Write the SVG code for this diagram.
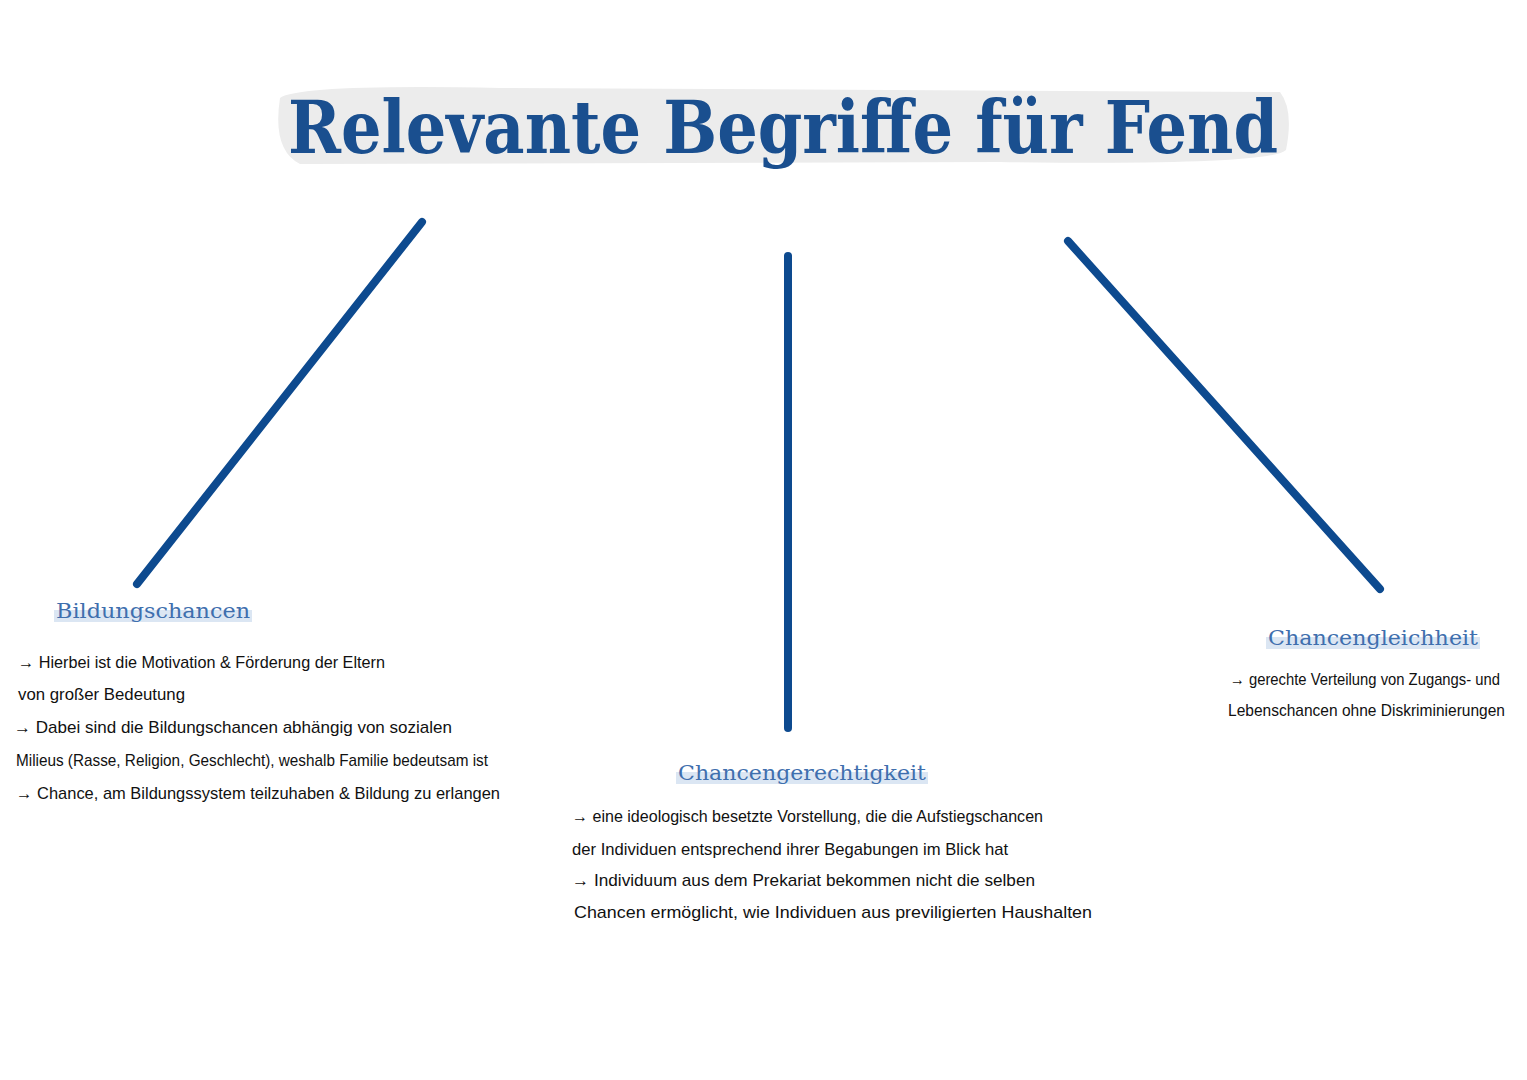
<svg xmlns="http://www.w3.org/2000/svg" width="1527" height="1080" viewBox="0 0 1527 1080">
<style>
.t{font-family:"DejaVu Serif",serif;font-weight:bold;fill:#1a4f8f}
.l{font-family:"DejaVu Serif",serif;font-size:21px;fill:#3f6fae}
.h{font-family:"Liberation Sans",sans-serif;font-size:17px;fill:#111}
.c{stroke:#0d4a8f;stroke-width:8;stroke-linecap:round;fill:none}
.hl{fill:#dbe6f3}
</style>
<rect width="1527" height="1080" fill="#fff"/>
<g id="title">
<path d="M280 98 Q300 84 500 88 L1280 92 Q1294 110 1286 150 Q1270 166 1000 162 L300 164 Q272 150 280 98Z" fill="#ececec"/>
<text class="t" x="288" y="153" font-size="72" textLength="990" lengthAdjust="spacingAndGlyphs">Relevante Begriffe für Fend</text>
</g>
<g id="connectors">
<line class="c" x1="422" y1="222" x2="137" y2="584"/>
<line class="c" x1="788" y1="256" x2="788" y2="728"/>
<line class="c" x1="1068" y1="241" x2="1380" y2="589"/>
</g>
<g id="bildungschancen">
<rect class="hl" x="54" y="610" width="198" height="12"/>
<text class="l" x="56" y="618" textLength="194" lengthAdjust="spacingAndGlyphs">Bildungschancen</text>
<text class="h" x="18" y="668" textLength="367" lengthAdjust="spacingAndGlyphs">→ Hierbei ist die Motivation &amp; Förderung der Eltern</text>
<text class="h" x="18" y="700" textLength="167" lengthAdjust="spacingAndGlyphs">von großer Bedeutung</text>
<text class="h" x="14" y="733" textLength="438" lengthAdjust="spacingAndGlyphs">→ Dabei sind die Bildungschancen abhängig von sozialen</text>
<text class="h" x="16" y="766" textLength="472" lengthAdjust="spacingAndGlyphs">Milieus (Rasse, Religion, Geschlecht), weshalb Familie bedeutsam ist</text>
<text class="h" x="16" y="799" textLength="484" lengthAdjust="spacingAndGlyphs">→ Chance, am Bildungssystem teilzuhaben &amp; Bildung zu erlangen</text>
</g>
<g id="chancengerechtigkeit">
<rect class="hl" x="676" y="772" width="252" height="12"/>
<text class="l" x="678" y="780" textLength="248" lengthAdjust="spacingAndGlyphs">Chancengerechtigkeit</text>
<text class="h" x="572" y="822" textLength="471" lengthAdjust="spacingAndGlyphs">→ eine ideologisch besetzte Vorstellung, die die Aufstiegschancen</text>
<text class="h" x="572" y="855" textLength="436" lengthAdjust="spacingAndGlyphs">der Individuen entsprechend ihrer Begabungen im Blick hat</text>
<text class="h" x="572" y="886" textLength="463" lengthAdjust="spacingAndGlyphs">→ Individuum aus dem Prekariat bekommen nicht die selben</text>
<text class="h" x="574" y="918" textLength="518" lengthAdjust="spacingAndGlyphs">Chancen ermöglicht, wie Individuen aus previligierten Haushalten</text>
</g>
<g id="chancengleichheit">
<rect class="hl" x="1266" y="637" width="214" height="12"/>
<text class="l" x="1268" y="645" textLength="210" lengthAdjust="spacingAndGlyphs">Chancengleichheit</text>
<text class="h" x="1230" y="685" textLength="270" lengthAdjust="spacingAndGlyphs">→ gerechte Verteilung von Zugangs- und</text>
<text class="h" x="1228" y="716" textLength="277" lengthAdjust="spacingAndGlyphs">Lebenschancen ohne Diskriminierungen</text>
</g>
</svg>
